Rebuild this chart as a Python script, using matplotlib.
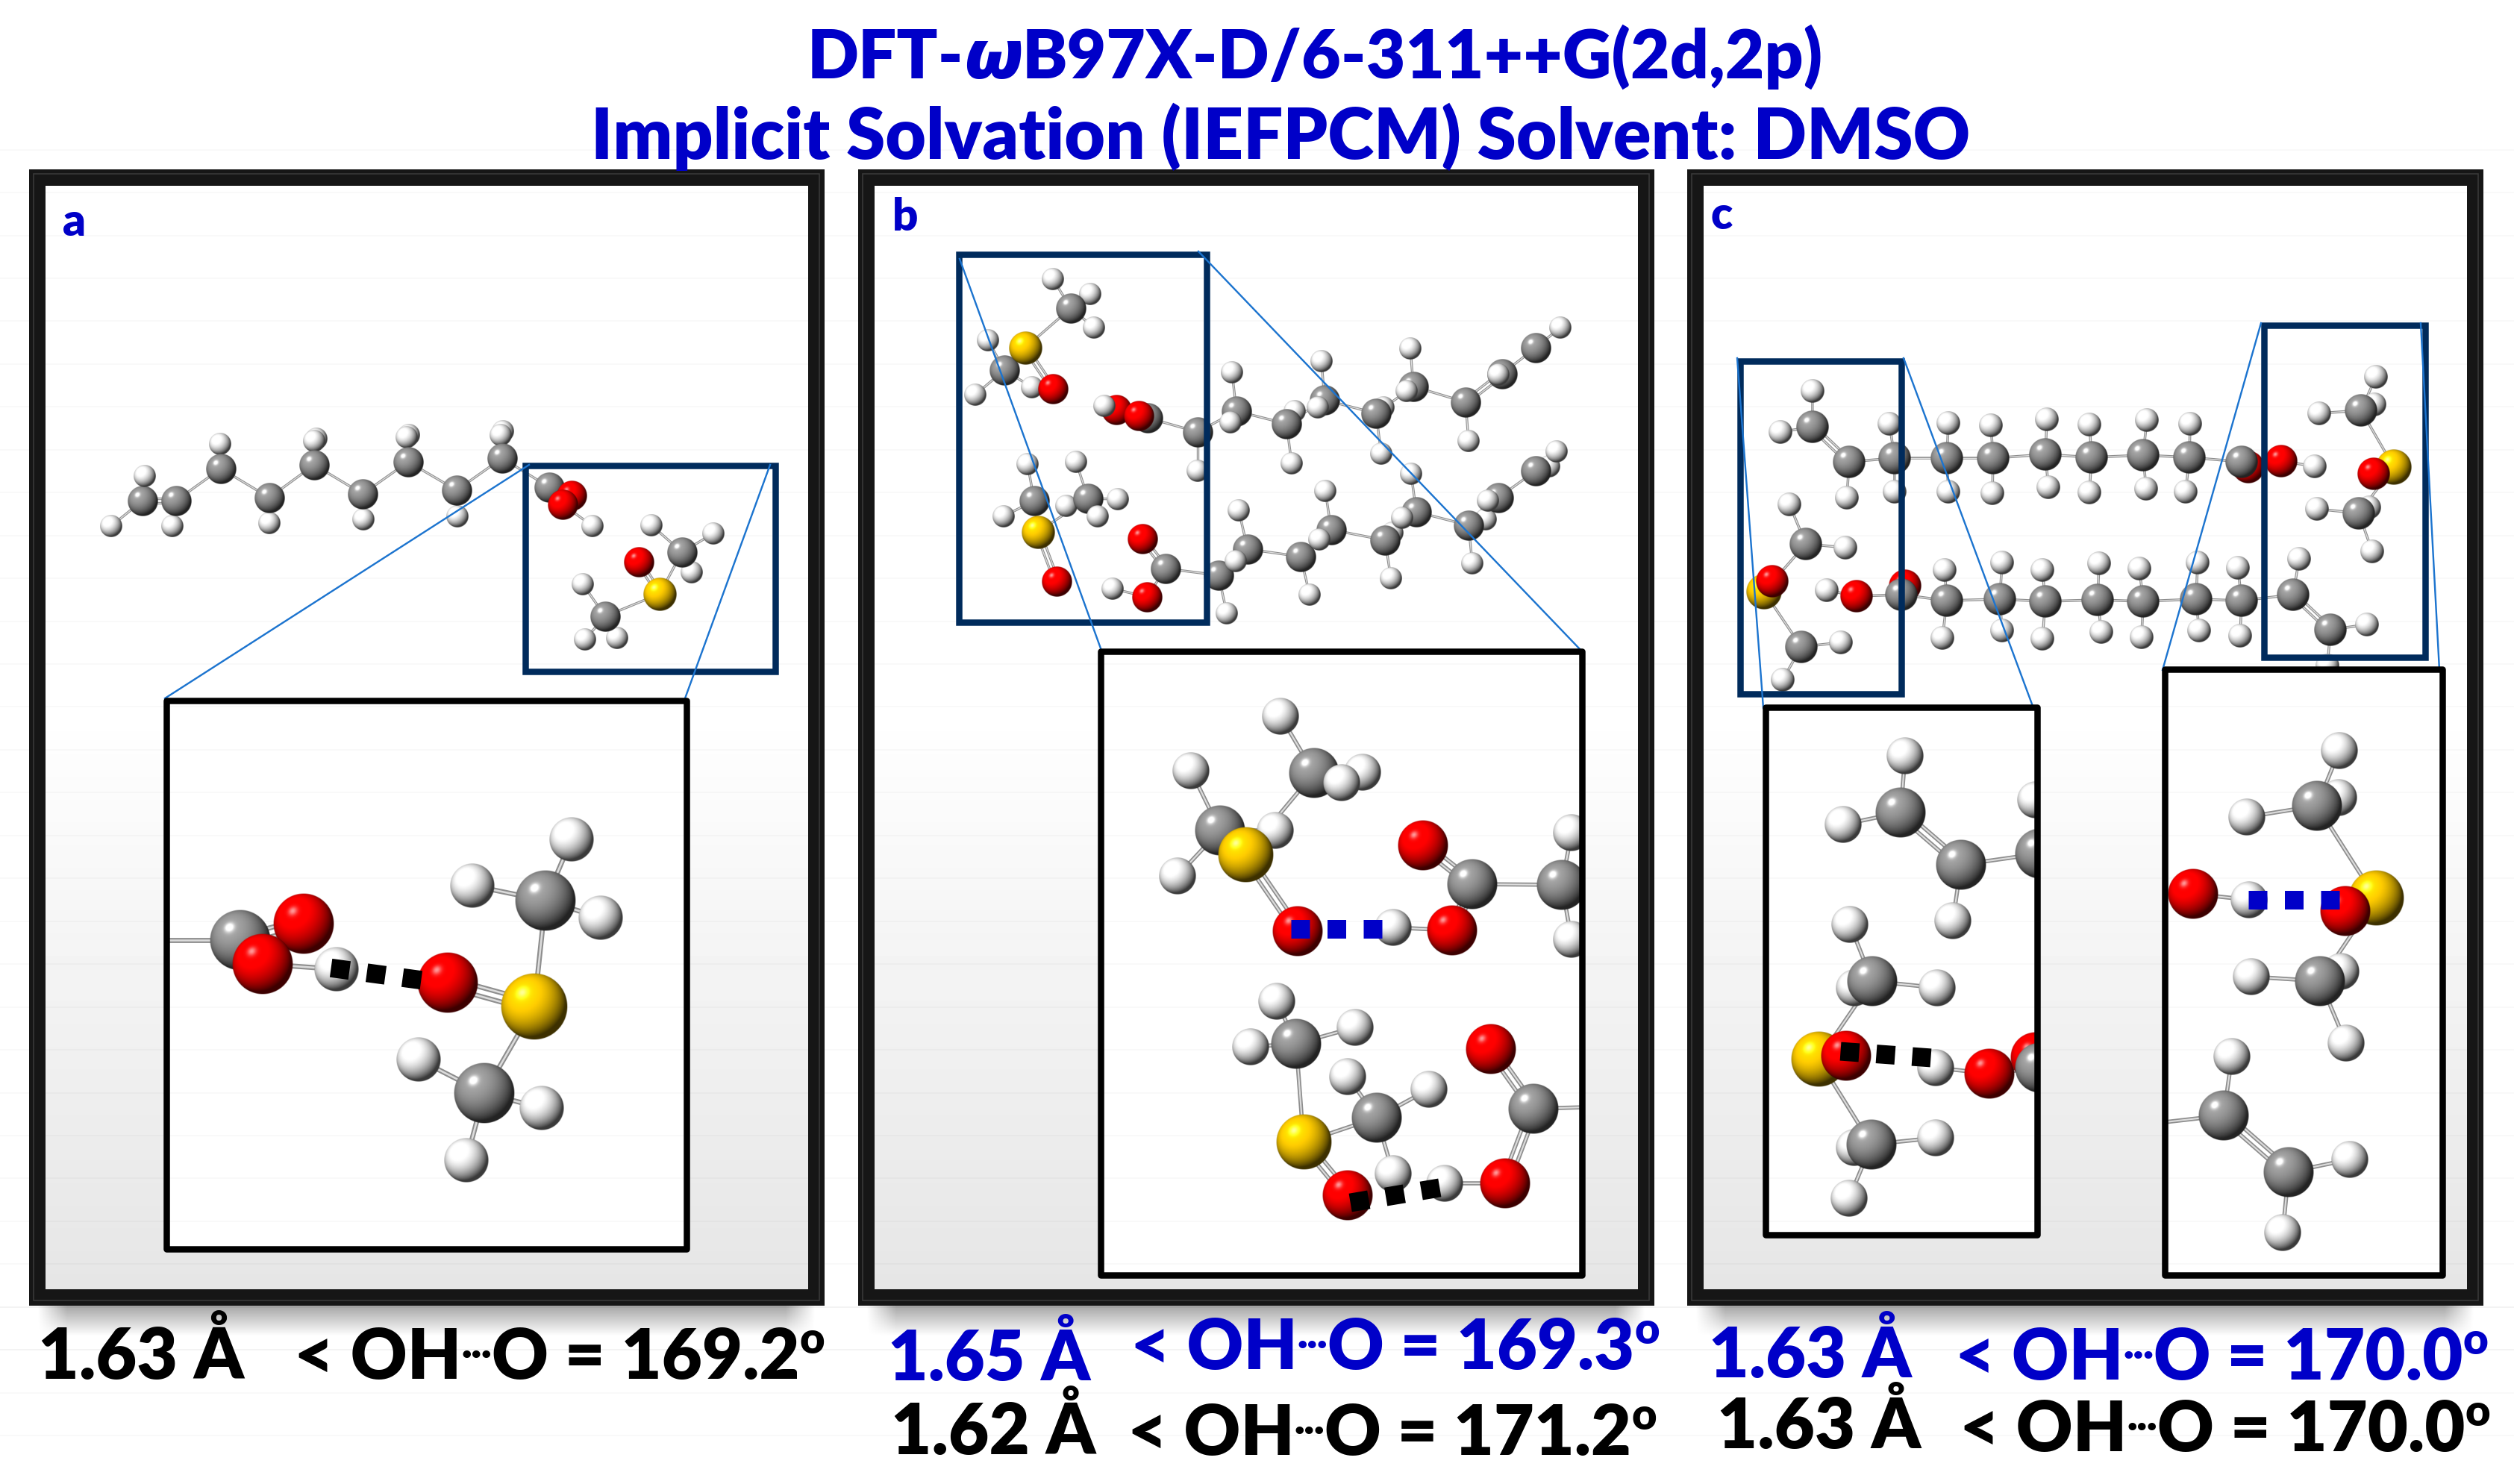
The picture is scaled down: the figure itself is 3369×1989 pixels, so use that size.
import numpy as np
import matplotlib
matplotlib.use("Agg")
import matplotlib.pyplot as plt
from matplotlib.patches import Rectangle

W, H = 3369, 1990
PX = 0.72  # one pixel in points at dpi=100

BLUE_TEXT = "#0000c8"
NAVY = "#002b5c"
LINK = "#1c74cf"

# frames: left, right of the outer border
FRAME_LEFT = [39, 1150, 2261]
FRAME_RIGHT = [1104, 2216, 3327]
FRAME_TOP = 228
FRAME_BOTTOM = 1750
PANEL_LETTERS = ["a", "b", "c"]
LETTER_X = [84, 1196, 2293]
LETTER_Y = [316, 309, 307]

# --- panel a, whole structure
A1_EL = "CHHHCHCHCHHCHCHHCHCHHCCHOO"
A1_X = [191, 149, 194, 231, 236, 295, 296, 361, 361, 424, 421, 421, 487, 486, 548, 545, 547, 613, 612, 674, 671, 673, 736, 794, 766, 754]
A1_Y = [672, 706, 639, 706, 672, 596, 629, 702, 668, 589, 592, 624, 697, 663, 584, 587, 620, 693, 658, 579, 584, 615, 654, 706, 665, 677]
A1_PARENT = [-1, 0, 0, 4, 0, 6, 4, 8, 6, 11, 11, 8, 13, 11, 16, 16, 13, 18, 16, 21, 21, 18, 21, 25, 22, 22]
A2_EL = "HHHCOSHHHC"
A2_X = [927, 873, 956, 914, 856, 884, 781, 784, 827, 811]
A2_Y = [768, 705, 716, 741, 754, 797, 784, 858, 856, 827]
A2_PARENT = [3, 3, 3, 5, 5, -1, 9, 9, 9, 5]
# panel a, inset
A3_EL = "CCOHOHHCHSOHHCH"
A3_X = [140, 322, 407, 451, 352, 766, 633, 731, 805, 716, 600, 561, 625, 649, 726]
A3_Y = [1261, 1261, 1239, 1300, 1293, 1126, 1188, 1208, 1231, 1350, 1318, 1421, 1556, 1466, 1486]
A3_PARENT = [-1, 0, 1, 4, 1, 7, 7, 9, 7, -1, 9, 13, 13, 9, 13]

# --- panel b, whole structure
B1_EL = "HHHCHCHSHO"
B1_X = [1411, 1461, 1466, 1435, 1324, 1346, 1307, 1374, 1383, 1411]
B1_Y = [375, 395, 440, 414, 457, 497, 530, 467, 520, 522]
B1_PARENT = [3, 3, 3, 7, 5, 7, 5, -1, 5, 7]
B2_EL = "OHCOHCHCHHHCHCHHHCHCHHCCHCH"
B2_X = [1496, 1480, 1538, 1526, 1605, 1605, 1651, 1657, 1649, 1731, 1735, 1724, 1771, 1775, 1766, 1851, 1854, 1844, 1890, 1894, 1885, 1968, 1964, 2013, 2008, 2058, 2091]
B2_Y = [550, 545, 561, 558, 632, 580, 500, 552, 567, 622, 552, 569, 485, 537, 547, 609, 547, 555, 468, 519, 525, 592, 540, 502, 503, 467, 440]
B2_PARENT = [2, 0, 5, 2, 5, -1, 7, 5, 7, 11, 11, 7, 13, 11, 13, 17, 17, 13, 19, 17, 19, 22, 19, 22, 23, 23, 25]
B3_EL = "HHCHHCHSHO"
B3_X = [1377, 1345, 1386, 1442, 1429, 1458, 1498, 1391, 1471, 1416]
B3_Y = [623, 693, 672, 620, 679, 669, 670, 714, 693, 780]
B3_PARENT = [2, 2, 7, 5, 5, 7, 5, -1, 5, 7]
B4_EL = "OCHOHCHCHHCHCHHHCHCHHHCCHHCH"
B4_X = [1531, 1562, 1491, 1537, 1644, 1633, 1660, 1672, 1656, 1755, 1743, 1776, 1784, 1768, 1864, 1866, 1856, 1891, 1898, 1879, 1973, 1991, 1968, 2008, 1994, 2076, 2058, 2086]
B4_Y = [723, 763, 790, 801, 823, 772, 685, 737, 753, 798, 747, 659, 711, 724, 776, 715, 725, 636, 687, 695, 756, 697, 705, 668, 672, 626, 632, 606]
B4_PARENT = [1, 5, 3, 1, 5, -1, 7, 5, 5, 10, 7, 12, 10, 12, 16, 16, 12, 18, 16, 18, 22, 22, 18, 22, 23, 26, 23, 26]
# panel b, inset
B5_EL = "HCHHHCHHSO"
B5_X = [1716, 1761, 1826, 1798, 1596, 1635, 1578, 1709, 1669, 1739]
B5_Y = [961, 1037, 1036, 1050, 1034, 1114, 1175, 1114, 1147, 1249]
B5_PARENT = [1, 8, 1, 1, 5, 8, 5, 5, -1, 8]
B6_EL = "HOCOHCH"
B6_X = [1867, 1946, 1973, 1907, 2106, 2093, 2106]
B6_Y = [1244, 1248, 1186, 1134, 1117, 1187, 1260]
B6_PARENT = [1, 2, 5, 2, 5, -1, 5]
B7_EL = "HHHCHHCHSO"
B7_X = [1711, 1676, 1816, 1737, 1806, 1915, 1845, 1867, 1747, 1806]
B7_Y = [1343, 1404, 1378, 1400, 1444, 1461, 1499, 1574, 1532, 1603]
B7_PARENT = [3, 3, 3, 8, 6, 6, 8, 6, -1, 8]
B8_EL = "HOOCC"
B8_X = [1936, 2017, 1998, 2055, 2160]
B8_Y = [1587, 1587, 1407, 1487, 1484]
B8_PARENT = [1, 3, 3, 4, -1]

# --- panel c, whole structure
C1_EL = "HHCHCHHCHHCHHCHHCHHCHHCHHCOCOH"
C1_X = [2429, 2386, 2429, 2475, 2478, 2532, 2539, 2539, 2611, 2611, 2609, 2668, 2670, 2671, 2743, 2745, 2741, 2800, 2800, 2803, 2877, 2876, 2872, 2935, 2929, 2934, 3013, 3004, 3057, 3102]
C1_Y = [525, 580, 573, 668, 620, 569, 660, 615, 568, 660, 615, 571, 662, 615, 563, 654, 610, 570, 661, 614, 564, 656, 611, 569, 660, 614, 627, 620, 619, 626]
C1_PARENT = [2, 2, 4, 4, 7, 7, 7, 10, 10, 10, 13, 13, 13, 16, 16, 16, 19, 19, 19, 22, 22, 22, 25, 25, 25, 27, 27, -1, 27, 28]
C2_EL = "HHCHHCSOHH"
C2_X = [3182, 3184, 3164, 3108, 3175, 3161, 3208, 3181, 3105, 3179]
C2_Y = [543, 506, 551, 555, 681, 689, 627, 636, 683, 740]
C2_PARENT = [2, 2, 6, 2, 5, 6, -1, 6, 5, 5]
C3_EL = "HCHSOCHH"
C3_X = [2398, 2420, 2473, 2364, 2375, 2414, 2467, 2389]
C3_Y = [677, 730, 735, 794, 780, 868, 862, 912]
C3_PARENT = [1, 3, 1, -1, 3, 3, 5, 5]
C4_EL = "HOOCHHCHHCHHCHHCHHCHHCHHCHCCHH"
C4_X = [2448, 2488, 2553, 2548, 2606, 2603, 2609, 2683, 2683, 2680, 2737, 2737, 2741, 2813, 2816, 2811, 2867, 2870, 2872, 2945, 2947, 2943, 2999, 3002, 3004, 3081, 3073, 3123, 3172, 3119]
C4_Y = [792, 800, 786, 798, 765, 856, 806, 755, 846, 804, 765, 857, 807, 756, 848, 805, 763, 855, 807, 755, 846, 804, 762, 853, 806, 750, 798, 845, 838, 893]
C4_PARENT = [1, 3, 3, 6, 6, 6, 9, 9, 9, 12, 12, 12, 15, 15, 15, 18, 18, 18, 21, 21, 21, 24, 24, 24, 26, 26, 27, -1, 27, 27]
# panel c, left inset
C5_EL = "HCHCHCH"
C5_X = [2553, 2547, 2470, 2628, 2617, 2734, 2728]
C5_Y = [1014, 1090, 1106, 1160, 1235, 1145, 1073]
C5_PARENT = [1, 3, 1, 5, 3, -1, 5]
C6_EL = "HHCHSOHCHH"
C6_X = [2479, 2485, 2509, 2596, 2437, 2474, 2485, 2508, 2594, 2478]
C6_Y = [1240, 1325, 1316, 1325, 1421, 1416, 1539, 1535, 1526, 1607]
C6_PARENT = [2, 2, 4, 2, -1, 4, 7, 4, 7, 7]
C7_EL = "HOOCC"
C7_X = [2594, 2666, 2728, 2734, 2840]
C7_Y = [1432, 1440, 1418, 1432, 1435]
C7_PARENT = [1, 3, 3, 4, -1]
# panel c, right inset
C8_EL = "HHCHSOHCHH"
C8_X = [3134, 3135, 3105, 3011, 3184, 3143, 3137, 3109, 3017, 3144]
C8_Y = [1070, 1007, 1081, 1096, 1205, 1222, 1303, 1316, 1310, 1399]
C8_PARENT = [2, 2, 4, 2, -1, 4, 7, 4, 7, 7]
C9_EL = "HO"
C9_X = [3014, 2939]
C9_Y = [1207, 1199]
C9_PARENT = [1, -1]
C10_EL = "HCCCHH"
C10_X = [2991, 2980, 2840, 3067, 3149, 3059]
C10_Y = [1417, 1496, 1512, 1572, 1555, 1653]
C10_PARENT = [1, 2, -1, 1, 3, 3]

# boxes: left, right, top, bottom (centre of the stroke)
BOX_A = (704, 1039, 625, 901)
BOX_B = (1285, 1617, 342, 835)
BOX_C1 = (2332, 2548, 485, 931)
BOX_C2 = (3034, 3250, 437, 882)
INSET_A = (223, 920, 940, 1675)
INSET_B = (1475, 2120, 874, 1710)
INSET_C1 = (2366, 2730, 949, 1656)
INSET_C2 = (2901, 3273, 898, 1710)

# zoom lines: x0, y0, x1, y1
LINK_X0 = [709, 1032, 1286, 1606, 2328, 2551, 3030, 3244]
LINK_Y0 = [624, 624, 348, 338, 481, 481, 434, 434]
LINK_X1 = [221, 918, 1475, 2119, 2363, 2725, 2898, 3269]
LINK_Y1 = [937, 937, 870, 873, 950, 950, 899, 899]

# H-bond dashes: centres of first and last square
DASH_X0 = [456, 1742, 1822, 2479, 3025]
DASH_Y0 = [1300, 1246, 1611, 1411, 1207]
DASH_X1 = [552, 1839, 1917, 2575, 3122]
DASH_Y1 = [1313, 1246, 1595, 1418, 1207]
DASH_COLOR = ["black", "#0000c8", "black", "black", "#0000c8"]

# labels under the panels: left, right, baseline, distance/angle text
DIST_TEXT = ["1.63 Å", "1.65 Å", "1.62 Å", "1.63 Å", "1.63 Å"]
DIST_LEFT = [51, 1190, 1194, 2290, 2301]
DIST_RIGHT = [327, 1461, 1468, 2562, 2574]
DIST_BASE = [1848, 1850, 1949, 1846, 1941]
ANGLE_VALUE = ["169.2", "169.3", "171.2", "170.0", "170.0"]
ANGLE_LEFT = [394, 1515, 1511, 2620, 2626]
ANGLE_RIGHT = [1105, 2224, 2220, 3335, 3337]
ANGLE_BASE = [1848, 1835, 1950, 1849, 1945]
LABEL_COLOR = ["black", BLUE_TEXT, "black", BLUE_TEXT, "black"]

ELEMENT_RGB = {"C": (0.58, 0.58, 0.58), "H": (0.95, 0.95, 0.95), "O": (1.0, 0.0, 0.0), "S": (1.0, 0.80, 0.0)}
ELEMENT_R = {"C": 20.5, "H": 15, "O": 20.5, "S": 22.5}


def sphere_image(rgb, n=120):
    v, u = np.mgrid[-1:1:n * 1j, -1:1:n * 1j]
    r2 = u ** 2 + v ** 2
    nz = np.sqrt(np.clip(1 - r2, 0, 1))
    light = np.array([-0.36, -0.42, 0.83])
    light = light / np.linalg.norm(light)
    d = np.clip(u * light[0] + v * light[1] + nz * light[2], 0, 1)
    img = np.zeros((n, n, 4))
    for i in range(3):
        img[..., i] = rgb[i] * (0.24 + 0.90 * d)
    spec = d ** 80 * 0.6
    for i in range(3):
        img[..., i] = np.clip(img[..., i] + spec, 0, 1)
    img[..., 3] = np.clip((1 - np.sqrt(r2)) * n / 2.0, 0, 1)
    return img


SPHERES = {k: sphere_image(v) for k, v in ELEMENT_RGB.items()}

fig = plt.figure(figsize=(W / 100, H / 100), dpi=100)
ax = fig.add_axes([0, 0, 1, 1])
ax.axis("off")


def box_clip(box):
    r = Rectangle((box[0], box[2]), box[1] - box[0], box[3] - box[2], transform=ax.transData)
    return r


def draw_molecule(el, xs, ys, parent, scale, doubles=(), clip=None, z=3):
    w = 3.4 * scale
    for i, p in enumerate(parent):
        if p < 0:
            continue
        x0, y0, x1, y1 = xs[i], ys[i], xs[p], ys[p]
        offs = [0.0]
        if i in doubles:
            offs = [-3.0 * scale, 3.0 * scale]
        d = np.hypot(x1 - x0, y1 - y0) + 1e-6
        nx, ny = -(y1 - y0) / d, (x1 - x0) / d
        for o in offs:
            bx = [x0 + nx * o, x1 + nx * o]
            by = [y0 + ny * o, y1 + ny * o]
            for col, lw in (("#8e8e8e", w), ("#dcdcdc", w * 0.38)):
                line, = ax.plot(bx, by, color=col, lw=lw * PX, solid_capstyle="butt", zorder=z - 0.5)
                if clip:
                    line.set_clip_path(box_clip(clip))
    for e, x, y in zip(el, xs, ys):
        r = ELEMENT_R[e] * scale
        im = ax.imshow(SPHERES[e], extent=(x - r, x + r, y + r, y - r), aspect="auto",
                       interpolation="bilinear", zorder=z)
        if clip:
            im.set_clip_path(box_clip(clip))


def draw_runs(x0, x1, baseline, runs, color, size_px):
    # runs: (text, relative size, raise, style, family); scaled so the row fills x0..x1
    renderer = fig.canvas.get_renderer()
    total = 0
    for text, frac, _, style, fam in runs:
        t = ax.text(0, 0, text, fontsize=size_px * frac * PX, fontweight="heavy", fontstyle=style, family=fam)
        total += t.get_window_extent(renderer).width
        t.remove()
    size_px = size_px * (x1 - x0) / total
    x = x0
    for text, frac, up, style, fam in runs:
        t = ax.text(x, baseline - up * size_px, text, fontsize=size_px * frac * PX, fontweight="heavy",
                    fontstyle=style, family=fam, color=color, va="baseline", ha="left", zorder=20)
        x += t.get_window_extent(renderer).width


# canvas limits first, text measuring depends on them
ax.set_xlim(0, W)
ax.set_ylim(H, 0)
ax.autoscale(False)

# faint banding of the original
BAND_Y = np.arange(29) * 57.45 + 201.6
ax.hlines(BAND_Y, 0, W, color="black", alpha=0.03, lw=1.5 * PX, zorder=1)
for y in np.arange(4) * 57.45 + 1753:
    ax.hlines(y, 0, W, color="black", alpha=0.03, lw=1.5 * PX, zorder=1)

for left, right in zip(FRAME_LEFT, FRAME_RIGHT):
    # grey fade inside the frame
    grad = np.ones((400, 1))
    yy = np.linspace(FRAME_TOP, FRAME_BOTTOM, 400)
    grad[:, 0] = 1 - 0.10 * np.clip((yy - 950) / (1728 - 950), 0, 1)
    ax.imshow(grad, extent=(left, right, FRAME_BOTTOM, FRAME_TOP), cmap="gray", vmin=0, vmax=1,
              aspect="auto", zorder=0.6)
    # shadow under the frame
    sh = np.zeros((40, 80, 4))
    fade_y = np.linspace(0.36, 0, 40)[:, None]
    fade_x = np.clip(np.minimum(np.arange(80), 79 - np.arange(80)) / 3.0, 0, 1)[None, :]
    sh[..., 3] = fade_y * fade_x
    ax.imshow(sh, extent=(left + 5, right - 5, FRAME_BOTTOM + 42, FRAME_BOTTOM), aspect="auto",
              interpolation="bilinear", zorder=0.7)

# whole structures
draw_molecule(A1_EL, A1_X, A1_Y, A1_PARENT, 1.0, doubles=(4,))
draw_molecule(A2_EL, A2_X, A2_Y, A2_PARENT, 1.0, doubles=(4,))
draw_molecule(B1_EL, B1_X, B1_Y, B1_PARENT, 1.0, doubles=(9,))
draw_molecule(B2_EL, B2_X, B2_Y, B2_PARENT, 1.0, doubles=(3, 23))
draw_molecule(B3_EL, B3_X, B3_Y, B3_PARENT, 1.0, doubles=(9,))
draw_molecule(B4_EL, B4_X, B4_Y, B4_PARENT, 1.0, doubles=(0, 23))
draw_molecule(C4_EL, C4_X, C4_Y, C4_PARENT, 1.05, doubles=(26,))
draw_molecule(C1_EL, C1_X, C1_Y, C1_PARENT, 1.05, doubles=(2,))
draw_molecule(C2_EL, C2_X, C2_Y, C2_PARENT, 1.05, doubles=(7,))
draw_molecule(C3_EL, C3_X, C3_Y, C3_PARENT, 1.05, doubles=(4,))

# dark blue selection boxes and the thin zoom lines
for b in (BOX_A, BOX_B, BOX_C1, BOX_C2):
    ax.add_patch(Rectangle((b[0], b[2]), b[1] - b[0], b[3] - b[2], fill=False, ec=NAVY,
                           lw=8.5 * PX, joinstyle="miter", zorder=4))
for x0, y0, x1, y1 in zip(LINK_X0, LINK_Y0, LINK_X1, LINK_Y1):
    ax.plot([x0, x1], [y0, y1], color=LINK, lw=2.4 * PX, zorder=4.5)

# insets
for b in (INSET_A, INSET_B, INSET_C1, INSET_C2):
    ax.add_patch(Rectangle((b[0], b[2]), b[1] - b[0], b[3] - b[2], fc="white", ec="none", zorder=5))
    inside = BAND_Y[(BAND_Y > b[2]) & (BAND_Y < b[3])]
    ax.hlines(inside, b[0], b[1], color="black", alpha=0.03, lw=1.5 * PX, zorder=5.2)

draw_molecule(A3_EL, A3_X, A3_Y, A3_PARENT, 2.0, doubles=(2, 4, 10), clip=INSET_A, z=7)
draw_molecule(B5_EL, B5_X, B5_Y, B5_PARENT, 1.65, doubles=(9,), clip=INSET_B, z=7)
draw_molecule(B6_EL, B6_X, B6_Y, B6_PARENT, 1.65, doubles=(1, 3), clip=INSET_B, z=7)
draw_molecule(B7_EL, B7_X, B7_Y, B7_PARENT, 1.65, doubles=(9,), clip=INSET_B, z=7)
draw_molecule(B8_EL, B8_X, B8_Y, B8_PARENT, 1.65, doubles=(1, 2), clip=INSET_B, z=7)
draw_molecule(C5_EL, C5_X, C5_Y, C5_PARENT, 1.65, doubles=(1,), clip=INSET_C1, z=7)
draw_molecule(C6_EL, C6_X, C6_Y, C6_PARENT, 1.65, clip=INSET_C1, z=7)
draw_molecule(C7_EL, C7_X, C7_Y, C7_PARENT, 1.65, clip=INSET_C1, z=7)
draw_molecule(C8_EL, C8_X, C8_Y, C8_PARENT, 1.65, clip=INSET_C2, z=7)
draw_molecule(C9_EL, C9_X, C9_Y, C9_PARENT, 1.65, clip=INSET_C2, z=7)
draw_molecule(C10_EL, C10_X, C10_Y, C10_PARENT, 1.65, doubles=(3,), clip=INSET_C2, z=7)

# hydrogen bond dashes: three squares along the line
for x0, y0, x1, y1, col in zip(DASH_X0, DASH_Y0, DASH_X1, DASH_Y1, DASH_COLOR):
    length = np.hypot(x1 - x0, y1 - y0)
    ux, uy = (x1 - x0) / length, (y1 - y0) / length
    side = 25.0
    gap = length / 2 - side
    ax.plot([x0 - ux * side / 2, x1 + ux * side / 2], [y0 - uy * side / 2, y1 + uy * side / 2],
            color=col, lw=side * PX, linestyle=(0, (1.0, gap / side)),
            dash_capstyle="butt", zorder=8)

for b in (INSET_A, INSET_B, INSET_C1, INSET_C2):
    ax.add_patch(Rectangle((b[0], b[2]), b[1] - b[0], b[3] - b[2], fill=False, ec="black",
                           lw=8.5 * PX, joinstyle="round", zorder=9))

# heavy frames
for left, right in zip(FRAME_LEFT, FRAME_RIGHT):
    ax.add_patch(Rectangle((left + 10.5, FRAME_TOP + 10.5), right - left - 21, FRAME_BOTTOM - FRAME_TOP - 21,
                           fill=False, ec="#161616", lw=22 * PX, joinstyle="miter", zorder=10))
    ax.add_patch(Rectangle((left + 6, FRAME_TOP + 6), right - left - 12, FRAME_BOTTOM - FRAME_TOP - 12,
                           fill=False, ec="#3a3a3a", lw=1.6 * PX, joinstyle="miter", zorder=10.5))

# text
SANS = ["Lato", "DejaVu Sans"]
draw_runs(1082, 2443, 105, [("DFT-", 1, 0, "normal", SANS),
                            ("ω", 1, 0, "italic", ["Open Sans", "DejaVu Sans"]),
                            ("B97X-D/6-311++G(2d,2p)", 1, 0, "normal", SANS)], BLUE_TEXT, 94)
draw_runs(792, 2639, 213, [("Implicit Solvation (IEFPCM) Solvent: DMSO", 1, 0, "normal", SANS)], BLUE_TEXT, 94)

for letter, lx, ly in zip(PANEL_LETTERS, LETTER_X, LETTER_Y):
    ax.text(lx, ly, letter, fontsize=60 * PX, fontweight="heavy", family=SANS, color=BLUE_TEXT,
            va="baseline", ha="left", zorder=20)

for i in range(len(DIST_TEXT)):
    draw_runs(DIST_LEFT[i], DIST_RIGHT[i], DIST_BASE[i], [(DIST_TEXT[i], 1, 0, "normal", SANS)], LABEL_COLOR[i], 92)
    draw_runs(ANGLE_LEFT[i], ANGLE_RIGHT[i], ANGLE_BASE[i],
              [("< OH", 1, 0, "normal", SANS), ("···", 0.5, 0.2, "normal", SANS),
               ("O = " + ANGLE_VALUE[i], 1, 0, "normal", SANS), ("o", 0.62, 0.36, "normal", SANS)],
              LABEL_COLOR[i], 92)

fig.savefig("out.png", dpi=100, facecolor="white")
